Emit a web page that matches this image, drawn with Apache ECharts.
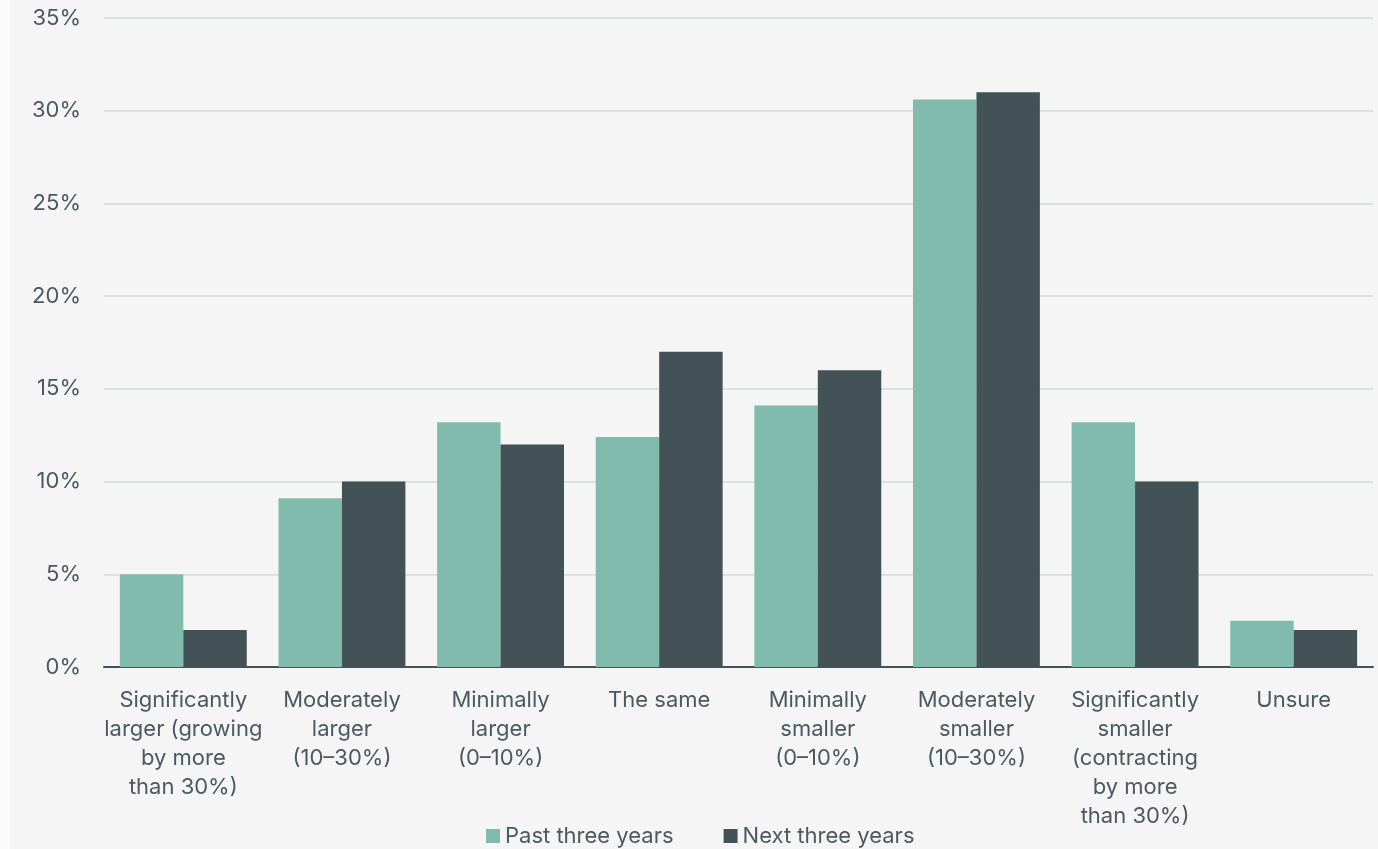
<!DOCTYPE html>
<html>
<head>
<meta charset="utf-8">
<script src="https://cdn.jsdelivr.net/npm/echarts@6/dist/echarts.min.js"></script>
<style>
  html, body { margin: 0; padding: 0; background: #f5f5f5; }
  #chart { width: 1378px; height: 849px; }
</style>
</head>
<body>
<div id="chart"></div>
<script>
// Expected change in size: share of respondents per answer
const categories = [
  "Significantly\nlarger (growing\nby more\nthan 30%)",
  "Moderately\nlarger\n(10–30%)",
  "Minimally\nlarger\n(0–10%)",
  "The same",
  "Minimally\nsmaller\n(0–10%)",
  "Moderately\nsmaller\n(10–30%)",
  "Significantly\nsmaller\n(contracting\nby more\nthan 30%)",
  "Unsure"
];
const pastThreeYears = [5.0, 9.1, 13.2, 12.4, 14.1, 30.6, 13.2, 2.5];
const nextThreeYears = [2.0, 10.0, 12.0, 17.0, 16.0, 31.0, 10.0, 2.0];
const seriesNames = ["Past three years", "Next three years"];

const textColor = "#4b5a5d";
const fontFamily = "Inter, Roboto, 'Noto Sans', sans-serif";

const chart = echarts.init(document.getElementById("chart"));
chart.setOption({
  backgroundColor: "#f5f5f5",
  textStyle: { fontFamily: fontFamily, color: textColor },
  graphic: [{
    type: "rect",
    left: 0, top: 0, z: -1,
    shape: { width: 10, height: 849 },
    style: { fill: "#fbfbfb" }
  }],
  grid: { left: 104, right: 5, top: 18, bottom: 182 },
  legend: {
    top: 825,
    left: 486,
    padding: 0,
    itemWidth: 14,
    itemHeight: 14,
    itemGap: 50,
    icon: "rect",
    textStyle: { fontSize: 22, color: textColor, fontFamily: fontFamily },
    data: seriesNames
  },
  xAxis: {
    type: "category",
    data: categories,
    axisLine: { lineStyle: { color: "#435256", width: 2 } },
    axisTick: { show: false },
    axisLabel: {
      interval: 0,
      margin: 19,
      fontSize: 22,
      lineHeight: 29,
      color: textColor,
      fontFamily: fontFamily,
      align: "center"
    }
  },
  yAxis: {
    type: "value",
    min: 0,
    max: 35,
    interval: 5,
    axisLine: { show: false },
    axisTick: { show: false },
    axisLabel: {
      margin: 23,
      fontSize: 22,
      color: textColor,
      fontFamily: fontFamily,
      formatter: "{value}%"
    },
    splitLine: { lineStyle: { color: "#d3d9da", width: 1.5 } }
  },
  series: [
    {
      name: seriesNames[0],
      type: "bar",
      data: pastThreeYears,
      barGap: "0%",
      barCategoryGap: "20%",
      itemStyle: { color: "#80bbad" }
    },
    {
      name: seriesNames[1],
      type: "bar",
      data: nextThreeYears,
      barGap: "0%",
      barCategoryGap: "20%",
      itemStyle: { color: "#435256" }
    }
  ]
});
</script>
</body>
</html>
